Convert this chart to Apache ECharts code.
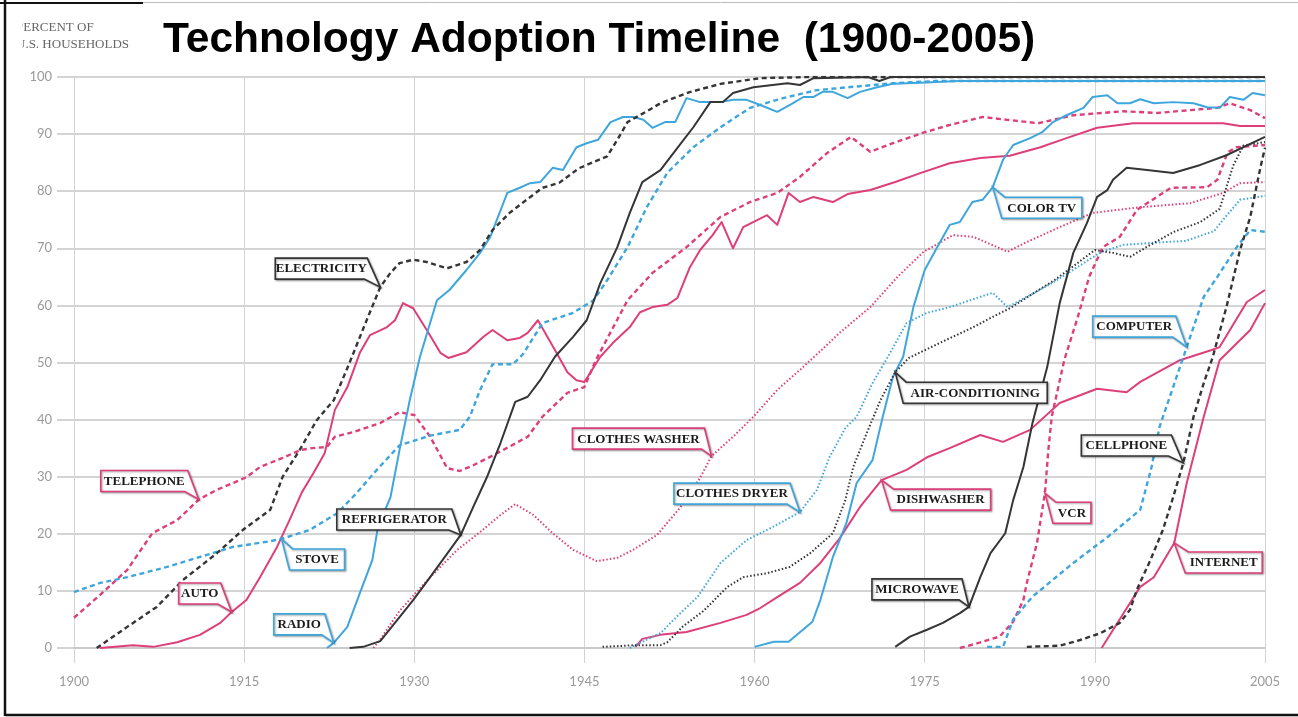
<!DOCTYPE html>
<html>
<head>
<meta charset="utf-8">
<title>Technology Adoption Timeline (1900-2005)</title>
<script src="https://cdn.jsdelivr.net/npm/echarts@6/dist/echarts.min.js"></script>
<style>
    html, body { margin: 0; padding: 0; background: #fff; }
    #chart { width: 1298px; height: 717px; }
</style>
</head>
<body>
<div id="chart"></div>
<script>
    // percent of U.S. households, [year, percent]
    const telephone = [[1900,5.3],[1902.3,9.3],[1904.7,13.7],[1906.9,20.1],[1909.1,22.4],[1911,26],[1912.6,27.7],[1915.2,29.9],[1916.4,31.7],[1918.4,33.3],[1920,34.7],[1921,35],[1922.3,35.2],[1923,37],[1924.6,37.8],[1927,39.4],[1928.7,41.3],[1930,40.8],[1931.4,37],[1932.9,31.5],[1934,31],[1935.2,32],[1937.3,34.1],[1940,37],[1941.3,40.5],[1943.5,44.7],[1945,45.7],[1946,50.4],[1948.8,60.9],[1951,65.7],[1954,70.2],[1957,75.5],[1959.6,78.1],[1962,79.7],[1964,82.5],[1966.4,86.7],[1968.5,89.5],[1970.2,86.9],[1972.2,88.4],[1974.8,90.2],[1977.2,91.6],[1980.1,93],[1982.3,92.5],[1985,91.9],[1988.1,93.3],[1992.5,94],[1995.5,93.7],[1998.4,94.2],[2000.8,94.6],[2001.9,95.4],[2003.7,94.2],[2005,92.8]];
    const auto = [[1902.3,0],[1905.2,0.5],[1907,0.2],[1909.1,1],[1911.1,2.3],[1912.9,4.4],[1913.9,6.3],[1915.2,8.4],[1916.4,12.4],[1917.9,17.7],[1919,22.4],[1920.1,27.3],[1921.1,30.6],[1922.1,34.1],[1923,41.7],[1924.1,45.7],[1925.2,51.7],[1926.1,54.8],[1927.6,56.2],[1928.3,57.4],[1929,60.4],[1929.9,59.5],[1931.1,55.7],[1932.3,51.7],[1933,50.8],[1934.6,51.8],[1936.1,54.5],[1936.9,55.7],[1938.2,53.9],[1939.3,54.3],[1940,55.2],[1940.9,57.4],[1942.6,51.5],[1943.5,48.3],[1944.3,46.9],[1945,46.6],[1946.4,51],[1947.5,53.4],[1949,56.2],[1949.9,58.8],[1951,59.7],[1952.3,60.1],[1953.2,61.3],[1954.3,66.7],[1955.2,69.7],[1956.3,72.3],[1957.1,74.6],[1958.1,70],[1959,73.7],[1961.1,75.8],[1962,74.1],[1963,79.7],[1964,78.1],[1965.2,79],[1966.9,78.1],[1968.2,79.5],[1970.2,80.2],[1972.4,81.6],[1974.8,83.3],[1977.2,84.9],[1979.9,85.8],[1982.5,86.2],[1985.2,87.7],[1987.5,89.3],[1990.2,91.1],[1993.4,91.9],[1996.9,91.9],[2001.3,91.9],[2002.8,91.4],[2005,91.4]];
    const clothesWasher = [[1926.4,0],[1927,1.5],[1928.7,6.5],[1931.4,12.4],[1933.8,17.2],[1935.8,20.3],[1937.6,23.3],[1938.9,25.2],[1940.5,23.3],[1942.2,20.1],[1944,17.2],[1946.1,15.2],[1947.9,15.8],[1949.3,17.2],[1951.4,19.8],[1953.4,24.5],[1955.2,29.8],[1956.2,33.6],[1958.1,37],[1959.9,40.5],[1962,45.2],[1964,48.7],[1965.8,52],[1967.5,55.2],[1970.2,59.7],[1972.6,65],[1974.9,69.4],[1977.5,72.3],[1979.3,72],[1981.4,70.2],[1982.3,69.4],[1984,71.1],[1986.9,73.7],[1989.8,76.2],[1994,77.2],[1998.4,77.9],[2001.3,79.7],[2002.8,81.4],[2005,81.6]];
    const dishwasher = [[1949.5,0.2],[1950.1,1.6],[1951.7,2.3],[1954,2.8],[1957,4.4],[1959.3,5.8],[1960.5,7],[1962,8.9],[1964,11.4],[1965.8,14.9],[1967.5,19.2],[1969.3,24.7],[1971.2,29.4],[1973.4,31.2],[1975.2,33.4],[1977.2,35],[1979.9,37.3],[1981.9,36.1],[1984.3,38.2],[1986.9,42.9],[1990.2,45.4],[1992.8,44.8],[1994,46.6],[1997.5,50.4],[2000.3,52.2],[2001,52.7],[2003.4,60.6],[2005,62.7]];
    const vcr = [[1978.1,0],[1979.6,0.8],[1981.6,2],[1982.8,4.6],[1983.7,8.4],[1984,11.4],[1984.9,18.4],[1985.4,24.7],[1985.6,27.1],[1985.9,34.7],[1986.2,40.5],[1987.3,50.4],[1988.5,58],[1989.5,65],[1990.7,70.2],[1992.2,72],[1993.7,76.7],[1996.7,80.6],[1999.9,80.7],[2000.8,82],[2001.7,86.8],[2002.5,87.7],[2005,88.1]];
    const internet = [[1990.6,0],[1992.5,6],[1994,10.7],[1995.2,12.4],[1997,18.4],[1998.1,28.9],[1999.6,40.5],[2001,50.4],[2003.7,55.7],[2005,60.4]];
    const stove = [[1900,9.8],[1902.3,11.4],[1904.7,12.4],[1908.2,14.2],[1911.7,16.3],[1914,17.7],[1917,18.6],[1918.3,19.1],[1920.8,20.7],[1923.2,23.6],[1924.9,27.1],[1926.7,31.2],[1928.7,35.5],[1931.4,37.2],[1934,38.2],[1934.9,40.5],[1935.8,45.2],[1936.9,49.7],[1938.7,49.7],[1939.6,51.5],[1941.3,56.9],[1944,58.7],[1945.8,60.9],[1947,64.4],[1948.8,70.2],[1950.5,77.2],[1952.3,83.2],[1954.6,87.7],[1957,91.2],[1959.6,94.6],[1962.5,96.3],[1965.5,97.7],[1968.2,98.2],[1972.2,98.9],[1976,99.3],[2005,99.3]];
    const radio = [[1922.3,0],[1922.9,0.9],[1924.1,3.7],[1925.2,9.6],[1926.3,15.4],[1926.8,21.2],[1927.9,26.4],[1928.7,34.7],[1929.6,43.4],[1930.5,51],[1932,60.9],[1933.1,62.7],[1934.6,66.2],[1935.8,69.2],[1936.7,72],[1938.2,79.7],[1939.3,80.6],[1940.2,81.4],[1941.1,81.6],[1942.2,84.1],[1943.1,83.7],[1944.3,87.7],[1945.2,88.4],[1946.2,89],[1947.3,92.1],[1948.4,93],[1949.3,93],[1950.2,92.5],[1951,91.1],[1952.1,92.1],[1953,92.1],[1954,96.3],[1955.2,95.6],[1957,95.6],[1958.1,96],[1959.3,96],[1960.5,95.1],[1962,93.9],[1963.2,95.2],[1964.3,96.5],[1965.2,96.5],[1966,97.4],[1966.9,97.4],[1968.2,96.3],[1969.3,97.4],[1970.8,98.2],[1972.2,98.8],[1974.6,99],[1978,99.3],[2005,99.3]];
    const colorTV = [[1960,0.2],[1961.7,1.1],[1963,1.1],[1965.1,4.6],[1965.8,8.4],[1966.9,15.9],[1968.1,21.9],[1969,28.9],[1970.4,32.9],[1971.3,40.5],[1972.2,47.5],[1973.1,51],[1974,59.7],[1975,66.2],[1976.1,70.2],[1977.2,74.1],[1978.1,74.6],[1979.2,78.1],[1980.1,78.5],[1981,80.7],[1981.9,85.5],[1982.8,88.1],[1984.3,89.3],[1985.4,90.4],[1986.3,92.1],[1987.5,93.3],[1989,94.6],[1989.8,96.5],[1991.1,96.8],[1992,95.4],[1993.1,95.4],[1994,96.1],[1995.2,95.4],[1996.9,95.6],[1998.7,95.4],[1999.9,94.7],[2001,94.6],[2001.9,96.5],[2003.1,96],[2003.9,97.2],[2005,96.8]];
    const clothesDryer = [[1949,0],[1949.9,0.9],[1951.7,2.6],[1953.3,5.8],[1955,9],[1957,14.9],[1959.3,18.9],[1961.6,21.2],[1964,23.8],[1965.5,27.7],[1966.6,33.4],[1968,38.5],[1969,40.5],[1970.4,46.4],[1971.9,51.5],[1973.4,56.9],[1975.2,58.7],[1977.2,59.7],[1979.9,61.5],[1981,62.2],[1982.3,59.7],[1984,61.5],[1986.3,64],[1988.7,67],[1990.5,69.3],[1992.5,70.6],[1995.5,71],[1998,71.3],[2000.5,73],[2001.3,75],[2002.8,78.5],[2005,79.2]];
    const computer = [[1980.5,0.2],[1981.9,0.2],[1982.8,5],[1984.5,9],[1988.1,14.9],[1991.1,19.4],[1994,24.2],[1995,31.7],[1995.7,38.7],[1996.9,45.7],[1998.1,52.7],[1999.6,61.5],[2000.8,65],[2002.5,70.2],[2003.7,73.2],[2005,72.9]];
    const electricity = [[1902,0],[1904.7,3.7],[1907.3,7.2],[1909.6,11.9],[1912.6,16.6],[1914.9,20.7],[1917.3,24.2],[1918.4,30],[1919.9,34.7],[1921.4,39.9],[1922.9,43.4],[1924.2,49.5],[1925.8,57.4],[1927,63.2],[1927.9,65.7],[1928.7,67.4],[1929.9,68],[1931.1,67.6],[1932.9,66.5],[1934.6,67.6],[1935.8,69.7],[1936.9,73.2],[1938.4,76.2],[1939.9,78.5],[1941.3,80.6],[1942.8,81.5],[1944.5,84],[1945.8,85.1],[1947,86.1],[1947.9,89],[1948.8,92.1],[1950.5,94],[1951.7,95.4],[1954.2,97.3],[1957,98.8],[1960.5,99.8],[1965,100],[2005,100]];
    const refrigerator = [[1924.3,0],[1925.5,0.2],[1927,1.2],[1928.7,5.4],[1929.9,8.4],[1931.4,12.4],[1934.1,19.8],[1935.2,24.7],[1936.4,29.9],[1937.6,35.9],[1938.9,43.1],[1940,44],[1941.1,46.9],[1942.4,51],[1944,54.5],[1945.2,57.4],[1946.4,63.9],[1947.9,70.2],[1949,76.2],[1950.1,81.6],[1951.7,83.7],[1953.2,87.6],[1954.6,91.2],[1956.1,95.6],[1957.2,95.6],[1958.1,97.2],[1959.9,98.2],[1962.9,98.9],[1964,98.6],[1965.2,99.8],[1970,100],[1971,99.3],[1972,100],[2005,100]];
    const airConditioning = [[1946.6,0.2],[1949.6,0.5],[1951.7,0.5],[1952.3,1],[1953.7,3.8],[1955.5,6.5],[1957.6,10.7],[1959,12.4],[1961.1,13.1],[1963.1,14.2],[1964.9,16.6],[1966.9,20.1],[1968,25.9],[1968.7,31.7],[1969.9,37.7],[1971.1,43.4],[1972.4,48.3],[1973.6,50.8],[1976.3,53.4],[1979.3,56.2],[1981,58],[1982.5,59.5],[1984.5,62],[1986.5,64.5],[1988.2,67],[1990,69.7],[1991.6,69.2],[1993.1,68.5],[1994.8,70.5],[1997,72.9],[1999.3,74.6],[2001,76.9],[2002.2,84.5],[2003.1,88],[2005,88.6]];
    const microwave = [[1972.4,0.2],[1973.7,2],[1975.2,3.2],[1976.6,4.4],[1978.1,6.1],[1978.9,7.2],[1979.9,12.4],[1980.8,16.6],[1982.1,20.1],[1982.8,25.9],[1983.7,31.7],[1984.5,39.4],[1985.2,44.7],[1985.8,49.2],[1986.9,60.4],[1988.1,69.2],[1989.3,74.4],[1990.2,79],[1991.1,80.2],[1991.6,82],[1992.8,84.1],[1994.6,83.7],[1996.9,83.2],[1999.3,84.6],[2001.6,86.3],[2005,89.5]];
    const cellphone = [[1984,0.2],[1986.9,0.4],[1988.7,1.4],[1990.5,2.6],[1992.2,4.4],[1993.1,6.7],[1993.7,10.2],[1994.9,15.4],[1996,20.7],[1996.9,26.4],[1997.8,32.4],[1998.7,40.5],[1999.6,46.4],[2000.4,51],[2001.6,59.7],[2002.8,69.7],[2003.7,75.5],[2004.6,84.2],[2005,87.6]];

    const PINK = '#dd3f7a';
    const BLUE = '#3ea6dc';
    const BLACK = '#353535';

    // name, values, colour, line kind
    const seriesDefs = [
        ['Telephone', telephone, PINK, 'dashed'],
        ['Auto', auto, PINK, 'solid'],
        ['Clothes washer', clothesWasher, PINK, 'dotted'],
        ['Dishwasher', dishwasher, PINK, 'solid'],
        ['VCR', vcr, PINK, 'dashed'],
        ['Internet', internet, PINK, 'solid'],
        ['Stove', stove, BLUE, 'dashed'],
        ['Radio', radio, BLUE, 'solid'],
        ['Color TV', colorTV, BLUE, 'solid'],
        ['Clothes dryer', clothesDryer, BLUE, 'dotted'],
        ['Computer', computer, BLUE, 'dashed'],
        ['Electricity', electricity, BLACK, 'dashed'],
        ['Refrigerator', refrigerator, BLACK, 'solid'],
        ['Air-conditioning', airConditioning, BLACK, 'dotted'],
        ['Microwave', microwave, BLACK, 'solid'],
        ['Cellphone', cellphone, BLACK, 'dashed']
    ];

    // callouts: text, series, year of the point it points at, colour, tail side, box offset from tip, box width
    const callouts = [
        ['TELEPHONE', telephone, 1911, PINK, 'br', -11, -8, 87],
        ['AUTO', auto, 1913.9, PINK, 'br', -11, -8, 42],
        ['ELECTRICITY', electricity, 1927, BLACK, 'br', -13, -8, 92],
        ['STOVE', stove, 1918.3, BLUE, 'tl', 8, 10, 55],
        ['RADIO', radio, 1922.9, BLUE, 'br', -9, -8, 51],
        ['REFRIGERATOR', refrigerator, 1934.1, BLACK, 'br', -9, -5, 115],
        ['CLOTHES WASHER', clothesWasher, 1956.2, PINK, 'br', -7, -7, 132],
        ['CLOTHES DRYER', clothesDryer, 1964, BLUE, 'br', -10, -8, 116],
        ['COLOR TV', colorTV, 1981, BLUE, 'tl', 9, 10, 80],
        ['AIR-CONDITIONING', airConditioning, 1972.4, BLACK, 'tl', 8, 10, 144],
        ['DISHWASHER', dishwasher, 1971.2, PINK, 'tl', 9, 9, 100],
        ['MICROWAVE', microwave, 1978.9, BLACK, 'br', -7, -7, 90],
        ['VCR', vcr, 1985.6, PINK, 'tl', 8, 9, 38],
        ['COMPUTER', computer, 1998.1, BLUE, 'br', -11, -10, 83],
        ['CELLPHONE', cellphone, 1997.8, BLACK, 'br', -12, -7, 90],
        ['INTERNET', internet, 1997, PINK, 'tl', 11, 9, 77]
    ];

    function lineType(kind) {
        if (kind === 'dashed') return { type: [5, 3.5], width: 2.4 };
        if (kind === 'dotted') return { type: [1.5, 2.1], width: 2 };
        return { type: 'solid', width: 2 };
    }

    const chart = echarts.init(document.getElementById('chart'));

    chart.setOption({
        animation: false,
        backgroundColor: '#fff',
        grid: { left: 74, right: 33, top: 77, bottom: 69, outerBoundsMode: 'none' },
        xAxis: {
            type: 'value', min: 1900, max: 2005, interval: 15,
            axisLine: { show: true, lineStyle: { color: '#c6c6c6', width: 1.5 } },
            axisTick: { show: true, length: 15, lineStyle: { color: '#d2d2d2', width: 1 } },
            axisLabel: { margin: 27, color: '#9a9a9a', fontSize: 13, fontFamily: 'Lato', formatter: function (v) { return String(v); } },
            splitLine: { show: true, lineStyle: { color: '#d4d4d4', width: 1 } }
        },
        yAxis: {
            type: 'value', min: 0, max: 100, interval: 10,
            axisLine: { show: true, lineStyle: { color: '#d4d4d4', width: 1 } },
            axisTick: { show: true, length: 17, lineStyle: { color: '#c6c6c6', width: 1.5 } },
            axisLabel: { margin: 22, color: '#9a9a9a', fontSize: 13, fontFamily: 'Lato' },
            splitLine: { show: true, lineStyle: { color: '#c6c6c6', width: 1.5 } }
        },
        series: seriesDefs.map(function (s) {
            const ls = lineType(s[3]);
            return {
                name: s[0], type: 'line', data: s[1],
                showSymbol: false, symbol: 'none', silent: true,
                lineStyle: { color: s[2], width: ls.width, type: ls.type, cap: 'butt', join: 'round' }
            };
        })
    });

    // frame, title and the corner caption
    const graphics = [
        { type: 'line', shape: { x1: 5, y1: 0, x2: 5, y2: 716 }, style: { stroke: '#111', lineWidth: 2.5 }, z: 200 },
        { type: 'line', shape: { x1: 5, y1: 715, x2: 1298, y2: 715 }, style: { stroke: '#111', lineWidth: 2.5 }, z: 200 },
        { type: 'line', shape: { x1: 0, y1: 3, x2: 143, y2: 3 }, style: { stroke: '#111', lineWidth: 2 }, z: 200 },
        { type: 'line', shape: { x1: 143, y1: 2.5, x2: 1298, y2: 2.5 }, style: { stroke: '#bdbdbd', lineWidth: 1 }, z: 200 },
        { type: 'text', x: 16, y: 28, style: { text: 'PERCENT OF', font: '13px "Liberation Serif"', fill: '#666', verticalAlign: 'middle' }, z: 150 },
        { type: 'text', x: 16, y: 45, style: { text: 'U.S. HOUSEHOLDS', font: '13px "Liberation Serif"', fill: '#666', verticalAlign: 'middle' }, z: 150 },
        { type: 'rect', shape: { x: 7, y: 16, width: 15.5, height: 40 }, style: { fill: '#fff' }, z: 160 },
        { type: 'text', x: 163, y: 40, style: { text: 'Technology Adoption Timeline  (1900-2005)', font: 'bold 42.5px "Liberation Sans"', fill: '#000', verticalAlign: 'middle' }, z: 150 }
    ];

    callouts.forEach(function (c) {
        const pt = c[1].find(function (p) { return p[0] === c[2]; });
        const tip = chart.convertToPixel({ gridIndex: 0 }, pt);
        const w = c[7], h = 21;
        let x0, y0, x1, y1, pts;
        if (c[4] === 'br') {
            x1 = tip[0] + c[5]; y1 = tip[1] + c[6];
            x0 = x1 - w; y0 = y1 - h;
            pts = [[x0, y0], [x1, y0], tip, [x1 - 3, y1], [x0, y1]];
        } else {
            x0 = tip[0] + c[5]; y0 = tip[1] + c[6];
            x1 = x0 + w; y1 = y0 + h;
            pts = [[x0, y1], tip, [x0 + 3, y0], [x1, y0], [x1, y1]];
        }
        graphics.push({
            type: 'polygon', shape: { points: pts }, z: 100,
            style: { fill: '#fff', stroke: c[3], lineWidth: 1.6, shadowBlur: 2, shadowColor: 'rgba(0,0,0,0.35)', shadowOffsetX: 1, shadowOffsetY: 1 }
        });
        graphics.push({
            type: 'text', x: (x0 + x1) / 2, y: (y0 + y1) / 2 + 0.5, z: 101,
            style: { text: c[0], font: 'bold 13px "Liberation Serif"', fill: '#1b1b1b', align: 'center', verticalAlign: 'middle' }
        });
    });

    chart.setOption({ graphic: { elements: graphics } });
</script>
</body>
</html>
